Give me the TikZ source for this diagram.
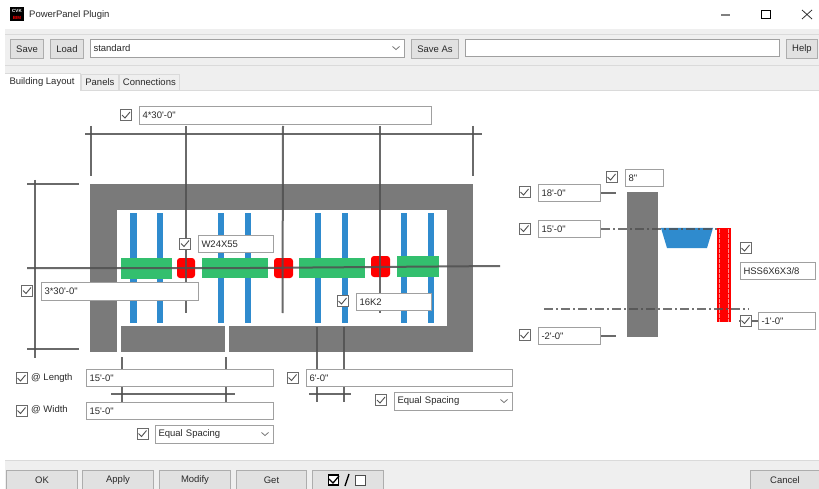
\documentclass[tikz,border=0pt]{standalone}
\usepackage{fontspec}
\newfontfamily\uifont{Liberation Sans}
\definecolor{bandc}{HTML}{EFEFEF}
\definecolor{rulec}{HTML}{DADADA}
\definecolor{btnc}{HTML}{E1E1E1}
\definecolor{btnl}{HTML}{ADADAD}
\definecolor{fieldl}{HTML}{A0A0A0}
\definecolor{wallc}{HTML}{7A7A7A}
\definecolor{beamc}{HTML}{2F8BCE}
\definecolor{greenc}{HTML}{33BF6E}
\definecolor{linec}{HTML}{505050}
\definecolor{txtc}{HTML}{2A2A2A}
\tikzset{
  uitext/.style={font=\uifont\fontsize{9.5}{11}\selectfont,text=txtc,inner sep=0pt},
  btnbox/.style={uitext,draw=btnl,fill=btnc,line width=1pt,anchor=north west,align=center,minimum height=10pt},
  fieldbox/.style={uitext,draw=fieldl,fill=white,line width=1pt,anchor=north west,align=left,inner xsep=3pt},
  tabbox/.style={uitext,draw=rulec,line width=.8pt,anchor=north west},
  cbox/.style={draw=linec!85,fill=white,line width=.9pt,minimum size=11pt,inner sep=0pt},
  chk/.style={draw=linec,line width=.9pt},
  dimline/.style={draw=linec,line width=2pt,opacity=.85},
  dashdotline/.style={draw=linec,line width=1.2pt,dash pattern=on 9pt off 3pt on 2pt off 3pt,opacity=.8},
  tickline/.style={draw=linec!85,line width=1.2pt},
  wallfill/.style={fill=wallc},
  beamfill/.style={fill=beamc},
  girderfill/.style={fill=greenc},
  colfill/.style={fill=red,rounded corners=3pt},
}
% name, x1, y1, x2, y2, text
\newcommand\fieldat[6]{\pgfmathsetmacro\boxw{#4-#2}\pgfmathsetmacro\boxh{#5-#3}%
  \node[fieldbox,minimum height=\boxh pt,text width=\boxw pt-6pt] (#1) at (#2,#3) {#6};}
\newcommand\btnat[6]{\pgfmathsetmacro\boxw{#4-#2}\pgfmathsetmacro\boxh{#5-#3}%
  \node[btnbox,minimum height=\boxh pt,minimum width=\boxw pt] (#1) at (#2,#3) {#6};}
\newcommand\cbat[3]{\node[cbox] (#1) at (#2,#3) {};
  \draw[chk,shift={(#2,#3)}] (-4,0) -- (-1,3) -- (4,-3);}
\newcommand\chev[2]{\draw[draw=linec!80,line width=.8pt,shift={(#1,#2)}] (-3.5,-1.5) -- (0,1.5) -- (3.5,-1.5);}
\begin{document}
\begin{tikzpicture}[x=1pt,y=-1pt]
\useasboundingbox (0,0) rectangle (819,489);
\fill[white] (0,0) rectangle (819,489);
% bands
\fill[bandc] (5,29) rectangle (819,90);
\fill[bandc] (5,460) rectangle (819,489);
\draw[rulec,line width=.8pt] (5,34) -- (819,34);
\draw[rulec,line width=.8pt] (5,65) -- (819,65);
\draw[rulec,line width=.8pt] (5,90) -- (819,90);
\draw[rulec,line width=.8pt] (5,460) -- (819,460);
% title bar
\node[fill=black,minimum size=14pt,inner sep=0pt] (icon) at (17,14) {};
\node[font=\uifont\bfseries\fontsize{4.5}{5}\selectfont,text=white,inner sep=0pt] (iconA) at (17,11) {CVK};
\node[font=\uifont\bfseries\fontsize{4.5}{5}\selectfont,text=red,inner sep=0pt] (iconB) at (17,17.5) {BIM};
\node[uitext,anchor=west] (title) at (29,15) {PowerPanel Plugin};
\draw[gray,line width=1.6pt] (721,15) -- (730,15);
\draw[black,line width=1pt] (761,10.5) rectangle (770,19);
\draw[black!80,line width=.8pt] (802,10) -- (812,19) (812,10) -- (802,19);
% toolbar
\btnat{save}{10}{39}{43}{58}{Save}
\btnat{load}{50}{39}{83}{58}{Load}
\fieldat{combo}{90}{39}{404}{57}{standard}
\chev{396}{48}
\btnat{saveas}{411}{39}{458}{58}{Save As}
\fieldat{inp}{465}{39}{779}{56}{}
\btnat{help}{786}{39}{817}{58}{Help}
% tabs
\fill[white] (5,73) rectangle (80,91);
\node[uitext,anchor=center] (tabA) at (42,82) {Building Layout};
\draw[rulec,line width=.8pt] (5,73) -- (80,73) -- (80,90);
\node[tabbox,minimum width=37pt,minimum height=16pt] (tabB) at (81,74) {Panels};
\node[tabbox,minimum width=60pt,minimum height=16pt] (tabC) at (119,74) {Connections};
% plan: wall
\fill[wallfill] (90,184) rectangle (473,352);
\fill[white] (117,210) rectangle (447,326);
\fill[white] (117,326) rectangle (121,352);
\fill[white] (225,326) rectangle (229,352);
% beams
\foreach \jx in {133.5,160,221,248,318,345,404,431}
  \fill[beamfill] (\jx-3.2,213) rectangle (\jx+3.2,323);
% girders
\fill[girderfill] (121,258) rectangle (172,279);
\fill[girderfill] (202,258) rectangle (268,278);
\fill[girderfill] (299,258) rectangle (365,278);
\fill[girderfill] (397,256) rectangle (439,277);
% columns
\fill[colfill] (177,258) rectangle (195,278);
\fill[colfill] (274,258) rectangle (293,278);
\fill[colfill] (371,256) rectangle (390,277);
% grid lines
\draw[dimline] (85,134) -- (482,134);
\draw[dimline] (91,126) -- (91,176);
\draw[dimline] (186,126) -- (186,313);
\draw[dimline] (283,126) -- (282.5,313);
\draw[dimline] (380,126) -- (380,313);
\draw[dimline] (472.5,126) -- (472.5,176);
\draw[dimline] (35,180) -- (35,358);
\draw[dimline] (27,184) -- (79,184);
\draw[dimline] (27,349) -- (79,349);
\draw[dimline] (27,268) -- (250,268) -- (500,266);
% lower dimension lines
\draw[dimline] (121.5,357) -- (121.5,402);
\draw[dimline] (226,357) -- (226,402);
\draw[dimline] (111,394) -- (235,394);
\draw[dimline] (317,327) -- (317,402);
\draw[dimline] (344,327) -- (344,402);
\draw[dimline] (309,394) -- (351,394);
% plan fields
\cbat{cbTop}{126}{115}
\fieldat{fTop}{139}{106}{431}{124}{4*30'-0"}
\cbat{cbW}{185}{243.5}
\fieldat{fW}{198}{235}{273}{252}{W24X55}
\cbat{cbL}{27}{290.5}
\fieldat{fL}{41}{282}{198}{300}{3*30'-0"}
\cbat{cbK}{342.5}{301}
\fieldat{fK}{356}{293}{431}{310}{16K2}
% bottom fields
\cbat{cbLen}{21.5}{378}
\node[uitext,anchor=west] (lLen) at (31,378) {@ Length};
\fieldat{fLen}{86}{369}{273}{386}{15'-0"}
\cbat{cbWid}{21.5}{410.5}
\node[uitext,anchor=west] (lWid) at (31,410) {@ Width};
\fieldat{fWid}{86}{402}{273}{419}{15'-0"}
\cbat{cbEq}{142.5}{433.5}
\fieldat{fEq}{155}{425}{273}{443}{Equal Spacing}
\chev{265}{434}
\cbat{cbSix}{292.5}{377.5}
\fieldat{fSix}{306}{369}{512}{386}{6'-0"}
\cbat{cbEqB}{381}{400}
\fieldat{fEqB}{394}{392}{512}{410}{Equal Spacing}
\chev{504}{401}
% section
\fill[wallfill] (627,192) rectangle (658,337);
\fill[beamfill] (661,228) -- (713,228) -- (707,248) -- (667,248) -- cycle;
\fill[red] (717,228) rectangle (731,322);
\draw[white!55!red,line width=.8pt,dash pattern=on 4pt off 1pt] (719.5,229) -- (719.5,322) (728.5,229) -- (728.5,322);
\cbat{cbEight}{611.5}{177}
\fieldat{fEight}{625}{169}{663}{186}{8"}
\cbat{cbA}{524.5}{192}
\fieldat{fA}{538}{184}{600}{201}{18'-0"}
\cbat{cbB}{524.5}{228.5}
\fieldat{fB}{538}{220}{600}{237}{15'-0"}
\cbat{cbC}{524.5}{335}
\fieldat{fC}{538}{327}{600}{344}{-2'-0"}
\coordinate (eA) at (616,192);
\coordinate (eB) at (718,228);
\coordinate (eC) at (616,334);
\coordinate (dL) at (544,309);
\coordinate (dR) at (749,309);
\coordinate (eD) at (739,320);
\draw[tickline] (fA.east) -- (fA.east -| eA);
\draw[dashdotline] (fB.east) -- (fB.east -| eB);
\draw[tickline] (fC.east) -- (fC.east -| eC);
\draw[dashdotline] (dL) -- (dR);
\cbat{cbHss}{745.5}{248}
\fieldat{fHss}{740}{262}{815}{279}{HSS6X6X3/8}
\fieldat{fD}{758}{312}{815}{329}{-1'-0"}
\draw[tickline] (fD.west -| eD) -- (fD.west);
\cbat{cbD}{745.5}{320.5}
% bottom buttons
\btnat{ok}{6}{470}{77}{489}{OK}
\btnat{apply}{82}{470}{153}{489}{Apply}
\btnat{modify}{159}{470}{230}{489}{Modify}
\btnat{get}{236}{470}{306}{489}{Get}
\btnat{toggle}{312}{470}{383}{489}{}
\node[draw=black,fill=white,line width=1.2pt,minimum size=10pt,inner sep=0pt] (chkOn) at (333.5,480) {};
\draw[black,line width=1.3pt] (329,479) -- (333,483) -- (339,476);
\node[draw=black!70,fill=white,line width=1pt,minimum size=10pt,inner sep=0pt] (chkOff) at (360,480) {};
\draw[black,line width=1.3pt] (349,474) -- (345,486);
\btnat{cancel}{750}{470}{819}{489}{Cancel}
\end{tikzpicture}
\end{document}
